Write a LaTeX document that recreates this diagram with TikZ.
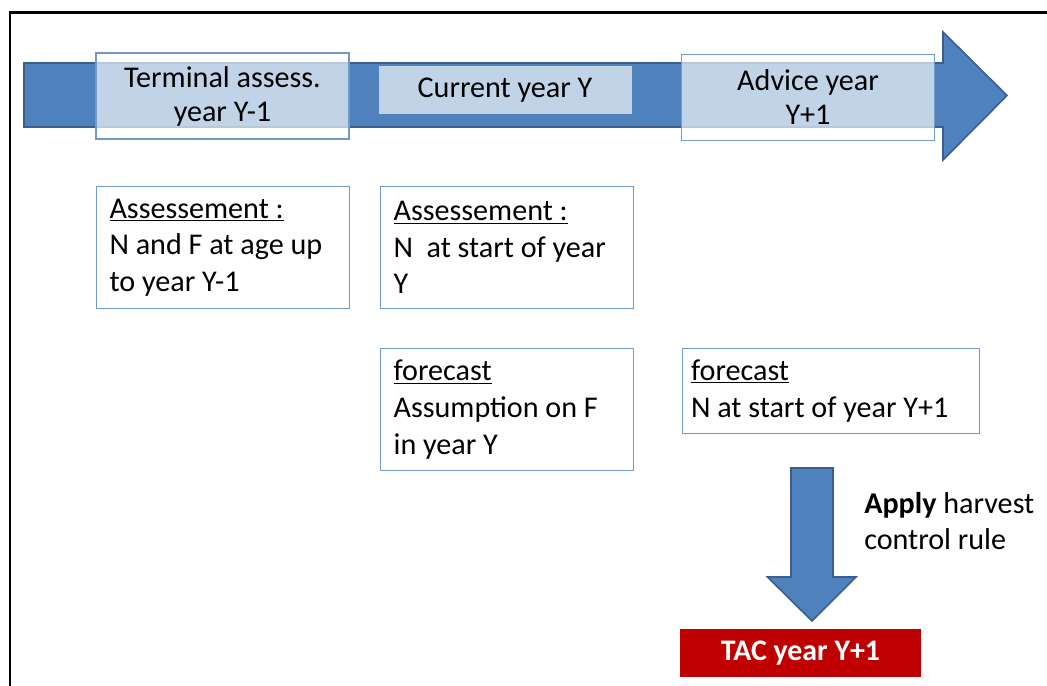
\documentclass[tikz,border=0pt]{standalone}
\usepackage{fontspec}
\setmainfont{Carlito}
\usepackage{xcolor}
\usetikzlibrary{positioning}
\definecolor{BarBlue}{HTML}{4F81BD}
\definecolor{BarEdge}{HTML}{3A5F8E}
\definecolor{BoxEdge}{HTML}{7399C6}
\definecolor{TacRed}{HTML}{C00000}
\newcommand{\px}{0.75pt}
\tikzset{
  >=latex,
  % block arrows
  block arrow/.style={fill=BarBlue,draw=BarEdge,line width=1.2pt,line join=miter},
  % boxes sitting on the time line
  yearbox/.style={draw=BoxEdge,line width=0.8pt,fill=white,fill opacity=0.65,text opacity=1,
    minimum width=253*\px,minimum height=86*\px,inner sep=0,align=center,
    font=\fontsize{22.6}{25.5}\selectfont},
  % text boxes below
  infobox/.style={draw=BoxEdge,line width=0.8pt,fill=white,minimum width=253*\px,
    minimum height=122*\px,text width=227*\px,inner xsep=13*\px,inner ysep=0,align=flush left,
    font=\fontsize{22.6}{27.4}\selectfont},
  tacbox/.style={fill=TacRed,text=white,minimum width=241*\px,minimum height=48*\px,
    font=\fontsize{22.4}{25}\selectfont\bfseries},
  note/.style={align=left,inner sep=0,font=\fontsize{22.6}{27.4}\selectfont}
}
\begin{document}
\begin{tikzpicture}[x=\px,y=-\px]
  \useasboundingbox (0,0) rectangle (1047,686);
  % frame
  \draw[line width=2pt] (10,686) -- (10,12.5) -- (1047,12.5);
  % time line
  \draw[block arrow] (24,63) -- (943,63) -- (943,32) -- (1007,95.5) -- (943,160)
    -- (943,127) -- (24,127) -- cycle;
  \node[yearbox] (term) at (222.5,96) {Terminal assess.\\year Y-1};
  \node[yearbox,draw=none,minimum height=48*\px] (cur) at (505,90) {Current year Y};
  \node[yearbox] (adv) at (808,97.5) {Advice year\\Y+1};
  % assessment and forecast
  \node[infobox,anchor=north west] (assA) at (96,186) {\underline{Assessement :}\\N and F at age up\\to year Y-1};
  \node[infobox,right=30*\px of assA] (assB) {\underline{Assessement :}\\N~ at start of year\\Y};
  \node[infobox,below=39*\px of assB] (fcC) {\underline{forecast}\\Assumption on F\\in year Y};
  \node[infobox,anchor=north west,minimum width=297*\px,text width=280*\px,inner xsep=8.5*\px,
    minimum height=85*\px] (fcD) at (682,348) {\underline{forecast}\\N at start of year Y+1};
  % harvest control rule
  \draw[block arrow] (791,468) -- (833,468) -- (833,577) -- (856,577) -- (812,621)
    -- (767.5,577) -- (791,577) -- cycle;
  \node[note,anchor=west] (hcr) at (864,521) {\textbf{Apply} harvest\\control rule};
  \node[tacbox] (tac) at (800.5,653) {TAC year Y+1};
\end{tikzpicture}
\end{document}
